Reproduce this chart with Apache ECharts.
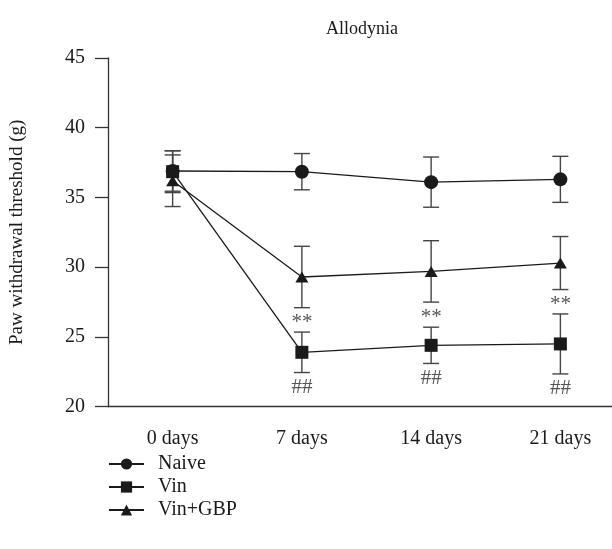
<!DOCTYPE html>
<html>
<head>
<meta charset="utf-8">
<script src="https://cdn.jsdelivr.net/npm/echarts@6/dist/echarts.min.js"></script>
<style>html,body{margin:0;padding:0;background:#fff;}#c{width:612px;height:549px;}</style>
</head>
<body>
<div id="c"></div>
<script>
var categories = ['0 days', '7 days', '14 days', '21 days'];
var yTicks = [20, 25, 30, 35, 40, 45];
var naiveMean = [36.9, 36.85, 36.1, 36.3];
var naiveErr = [1.45, 1.3, 1.8, 1.65];
var vinMean = [36.85, 23.9, 24.4, 24.5];
var vinErr = [1.5, 1.45, 1.3, 2.15];
var gbpMean = [36.2, 29.3, 29.7, 30.3];
var gbpErr = [1.85, 2.2, 2.2, 1.9];
var gbpMarks = ['', '**', '**', '**'];
var vinMarks = ['', '##', '##', '##'];

var FONT = 'Liberation Serif';
var DARK = '#1a1a1a';

function errData(mean, err) {
  return mean.map(function (m, i) { return [i, m - err[i], m + err[i]]; });
}
function errSeries(mean, err) {
  return {
    type: 'custom',
    silent: true,
    z: 1,
    data: errData(mean, err),
    renderItem: function (params, api) {
      var lo = api.coord([api.value(0), api.value(1)]);
      var hi = api.coord([api.value(0), api.value(2)]);
      var w = 8;
      var st = { stroke: '#444', lineWidth: 1.4 };
      return {
        type: 'group',
        children: [
          { type: 'line', shape: { x1: lo[0], y1: lo[1], x2: hi[0], y2: hi[1] }, style: st },
          { type: 'line', shape: { x1: lo[0] - w, y1: lo[1], x2: lo[0] + w, y2: lo[1] }, style: st },
          { type: 'line', shape: { x1: hi[0] - w, y1: hi[1], x2: hi[0] + w, y2: hi[1] }, style: st }
        ]
      };
    }
  };
}
function markSeries(mean, err, marks, offset) {
  var d = [];
  marks.forEach(function (t, i) { if (t) d.push([i, mean[i] - err[i], t]); });
  return {
    type: 'custom',
    silent: true,
    z: 3,
    data: d,
    renderItem: function (params, api) {
      var p = api.coord([api.value(0), api.value(1)]);
      return {
        type: 'text',
        x: p[0], y: p[1] + offset,
        style: {
          text: d[params.dataIndex][2],
          fill: '#555', fontSize: 21, fontFamily: FONT,
          align: 'center', verticalAlign: 'middle'
        }
      };
    }
  };
}
function lineSeries(name, data, symbol, size) {
  return {
    name: name, type: 'line', data: data, z: 2,
    symbol: symbol, symbolSize: size,
    itemStyle: { color: DARK },
    lineStyle: { color: DARK, width: 1.3 }
  };
}

var chart = echarts.init(document.getElementById('c'));
chart.setOption({
  animation: false,
  backgroundColor: '#fff',
  title: {
    text: 'Allodynia', left: 357, top: 15, textAlign: 'center',
    textStyle: { fontFamily: FONT, fontSize: 18, fontWeight: 'normal', color: DARK }
  },
  legend: {
    orient: 'vertical', left: 103, top: 449,
    itemWidth: 35, itemHeight: 14, itemGap: 3,
    textStyle: { fontFamily: FONT, fontSize: 20, color: DARK, padding: [0, 0, 0, 9] },
    data: ['Naive', 'Vin', 'Vin+GBP']
  },
  grid: { left: 108, top: 58, width: 517, height: 348.7, outerBoundsMode: 'none', containLabel: false },
  xAxis: {
    type: 'category', data: categories,
    axisLine: { lineStyle: { color: '#333', width: 1.3 } },
    axisTick: { alignWithLabel: true, length: 13, lineStyle: { color: '#333', width: 1.3 } },
    axisLabel: { margin: 22, fontFamily: FONT, fontSize: 20, color: DARK }
  },
  yAxis: {
    type: 'value', min: yTicks[0], max: yTicks[yTicks.length - 1], interval: 5,
    name: 'Paw withdrawal threshold (g)', nameLocation: 'middle', nameGap: 81,
    nameTextStyle: { fontFamily: FONT, fontSize: 19, color: DARK },
    splitLine: { show: false },
    axisLine: { show: true, lineStyle: { color: '#333', width: 1.3 } },
    axisTick: { show: true, length: 13, lineStyle: { color: '#333', width: 1.3 } },
    axisLabel: { margin: 23, fontFamily: FONT, fontSize: 20, color: DARK }
  },
  series: [
    errSeries(naiveMean, naiveErr),
    errSeries(vinMean, vinErr),
    errSeries(gbpMean, gbpErr),
    lineSeries('Naive', naiveMean, 'circle', 14),
    lineSeries('Vin', vinMean, 'rect', 13),
    lineSeries('Vin+GBP', gbpMean, 'triangle', [13, 11]),
    markSeries(gbpMean, gbpErr, gbpMarks, 15),
    markSeries(vinMean, vinErr, vinMarks, 15)
  ]
});
</script>
</body>
</html>
